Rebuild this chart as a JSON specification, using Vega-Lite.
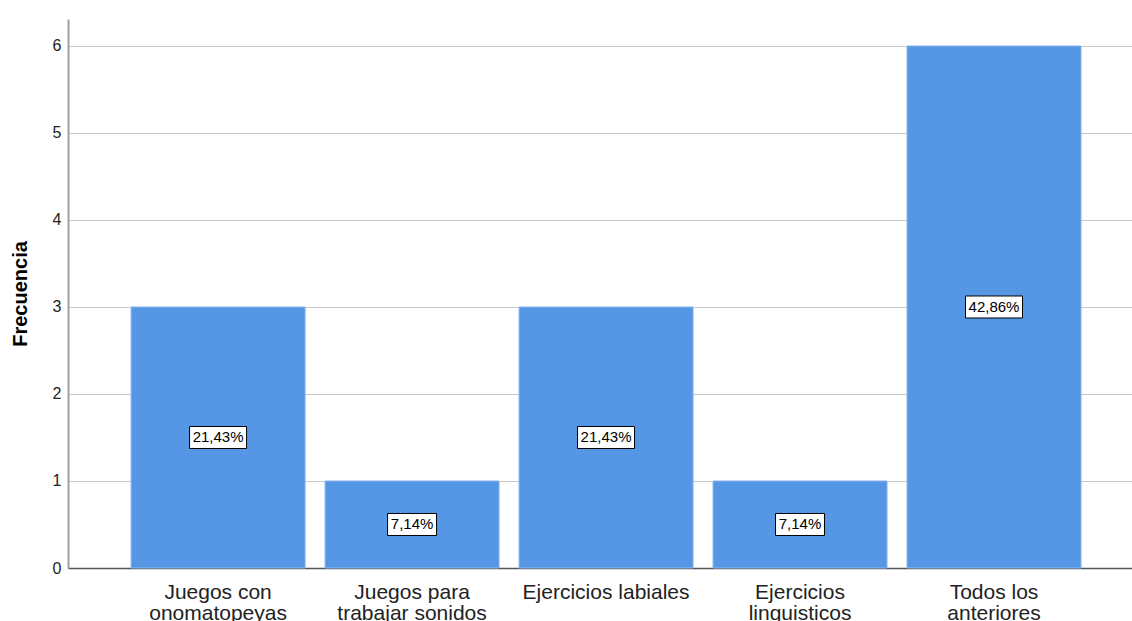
{
  "$schema": "https://vega.github.io/schema/vega-lite/v6.json",
  "width": 1064,
  "height": 549,
  "autosize": {"type": "none"},
  "padding": {"left": 68, "top": 19, "right": 0, "bottom": 53},
  "background": "white",
  "config": {
    "view": {"stroke": null},
    "font": "Liberation Sans",
    "locale": {"number": {"decimal": ",", "thousands": ".", "grouping": [3], "currency": ["", " €"]}}
  },
  "data": {
    "values": [
      {"Categoria": "Juegos con onomatopeyas", "Frecuencia": 3, "Porcentaje": 0.2143},
      {"Categoria": "Juegos para trabajar sonidos", "Frecuencia": 1, "Porcentaje": 0.0714},
      {"Categoria": "Ejercicios labiales", "Frecuencia": 3, "Porcentaje": 0.2143},
      {"Categoria": "Ejercicios linguisticos", "Frecuencia": 1, "Porcentaje": 0.0714},
      {"Categoria": "Todos los anteriores", "Frecuencia": 6, "Porcentaje": 0.4286}
    ]
  },
  "encoding": {
    "x": {
      "field": "Categoria",
      "type": "nominal",
      "sort": null,
      "scale": {"paddingInner": 0.103, "paddingOuter": 0.294, "align": 0.553},
      "axis": {
        "title": null,
        "labelAngle": 0,
        "labelFontSize": 21,
        "labelLineHeight": 21,
        "labelColor": "#222222",
        "labelPadding": 13,
        "ticks": false,
        "domainColor": "#555555",
        "domainWidth": 1.5,
        "labelExpr": "datum.label == 'Juegos con onomatopeyas' ? ['Juegos con', 'onomatopeyas'] : datum.label == 'Juegos para trabajar sonidos' ? ['Juegos para', 'trabajar sonidos'] : datum.label == 'Ejercicios linguisticos' ? ['Ejercicios', 'linguisticos'] : datum.label == 'Todos los anteriores' ? ['Todos los', 'anteriores'] : datum.label"
      }
    }
  },
  "resolve": {"scale": {"y": "independent"}},
  "layer": [
    {
      "mark": {"type": "bar", "color": "#5596e5", "stroke": "#8ab6ee", "strokeWidth": 1},
      "encoding": {
        "y": {
          "field": "Frecuencia",
          "type": "quantitative",
          "scale": {"domain": [0, 6.31], "nice": false, "zero": true},
          "axis": {
            "title": "Frecuencia",
            "titleFontSize": 20,
            "titleFontWeight": "bold",
            "titleColor": "#000000",
            "titlePadding": 22,
            "values": [0, 1, 2, 3, 4, 5, 6],
            "format": "d",
            "labelFontSize": 16,
            "labelColor": "#222222",
            "labelPadding": 7,
            "ticks": false,
            "domainColor": "#a0a0a0",
            "domainWidth": 2,
            "grid": true,
            "gridColor": "#c8c8c8",
            "gridWidth": 1
          }
        }
      }
    },
    {
      "mark": {"type": "point", "filled": true, "fill": "white", "stroke": "#000000", "strokeWidth": 1, "opacity": 1},
      "encoding": {
        "y": {
          "field": "Frecuencia",
          "type": "quantitative",
          "scale": {"domain": [0, 12.62], "nice": false, "zero": true},
          "axis": null
        },
        "shape": {
          "condition": {"test": "datum.Porcentaje > 0.1", "value": "M-1,-0.386L1,-0.386L1,0.386L-1,0.386Z"},
          "value": "M-1,-0.449L1,-0.449L1,0.449L-1,0.449Z"
        },
        "size": {
          "condition": {"test": "datum.Porcentaje > 0.1", "value": 3249},
          "value": 2401
        }
      }
    },
    {
      "mark": {"type": "text", "fontSize": 15, "color": "#000000", "baseline": "middle", "align": "center"},
      "encoding": {
        "y": {
          "field": "Frecuencia",
          "type": "quantitative",
          "scale": {"domain": [0, 12.62], "nice": false, "zero": true},
          "axis": null
        },
        "text": {"field": "Porcentaje", "type": "quantitative", "format": ".2%"}
      }
    }
  ]
}
